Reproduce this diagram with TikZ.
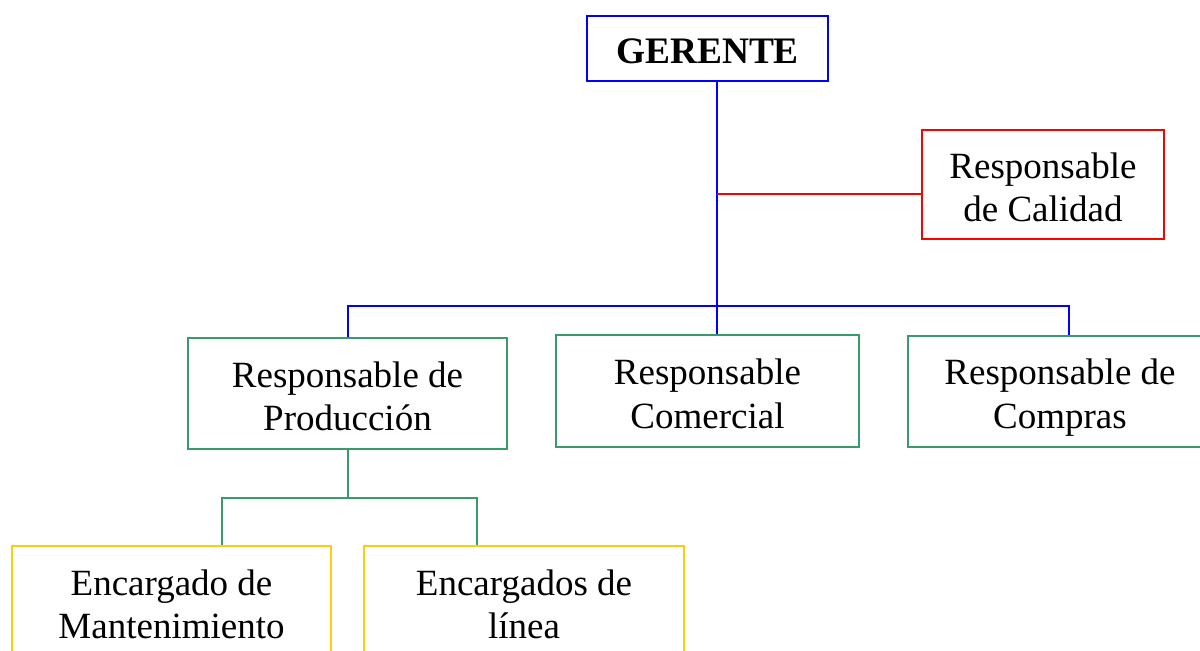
\documentclass[tikz,border=0pt]{standalone}
\usepackage{fontspec}
\setmainfont{Liberation Serif}
\usetikzlibrary{calc}
\definecolor{cblue}{RGB}{0,0,255}
\definecolor{cred}{RGB}{255,0,0}
\definecolor{cgreen}{RGB}{58,154,106}
\definecolor{cyel}{RGB}{255,204,20}
\begin{document}
\begin{tikzpicture}[x=0.5pt,y=-0.5pt,
  box/.style={draw,line width=1pt,inner sep=0pt},
  txt/.style={align=center,inner sep=0pt,
    font=\fontsize{18.5}{21.8}\selectfont,text=black},
  conn/.style={line width=1pt}]
\useasboundingbox (0,0) rectangle (1200,650);
\clip (0,0) rectangle (1200,650);
% boxes
\node[box,draw=cblue,minimum width=120.5pt,minimum height=32.5pt] (g) at (707.5,48.5) {};
\node[box,draw=cred,minimum width=121pt,minimum height=54.5pt] (cal) at (1043,184.5) {};
\node[box,draw=cgreen,minimum width=159.5pt,minimum height=55.5pt] (prod) at (347.5,393.5) {};
\node[box,draw=cgreen,minimum width=151.5pt,minimum height=56pt] (com) at (707.5,391) {};
\node[box,draw=cgreen,minimum width=152pt,minimum height=55.5pt] (comp) at (1060,391.5) {};
\node[box,draw=cyel,minimum width=159.5pt,minimum height=55.5pt,anchor=north] (mant) at (171.5,545) {};
\node[box,draw=cyel,minimum width=160pt,minimum height=55.5pt,anchor=north] (lin) at (524,545) {};
% texts
\node[txt,font=\fontsize{18.7}{21.5}\selectfont\bfseries,yshift=-1.5pt] (gT) at (g) {GERENTE};
\node[txt,yshift=-1.5pt] (calT) at (cal) {Responsable\\de Calidad};
\node[txt,yshift=-1.5pt] (prodT) at (prod) {Responsable de\\Producción};
\node[txt,yshift=-1.5pt] (comT) at (com) {Responsable\\Comercial};
\node[txt,yshift=-3pt] (compT) at (comp) {Responsable de\\Compras};
\node[txt,yshift=-1.5pt] (mantT) at (mant) {Encargado de\\Mantenimiento};
\node[txt,yshift=-1.5pt] (linT) at (lin) {Encargados de\\línea};
% junction coordinates
\coordinate (spine) at (717,306);
\coordinate (redj) at (717,194);
\coordinate (busL) at (348,306);
\coordinate (busR) at (1069,306);
\coordinate (gj) at (348,498);
\coordinate (gjL) at (222,498);
\coordinate (gjR) at (477,498);
% connectors
\draw[conn,cblue] (g.south -| spine) -- (com.north -| spine);
\draw[conn,cred] (redj) -- (redj -| cal.west);
\draw[conn,cblue] (prod.north -| busL) -- (busL) -- (busR) -- (comp.north -| busR);
\draw[conn,cgreen] (prod.south -| gj) -- (gj);
\draw[conn,cgreen] (mant.north -| gjL) -- (gjL) -- (gjR) -- (lin.north -| gjR);
\end{tikzpicture}
\end{document}
